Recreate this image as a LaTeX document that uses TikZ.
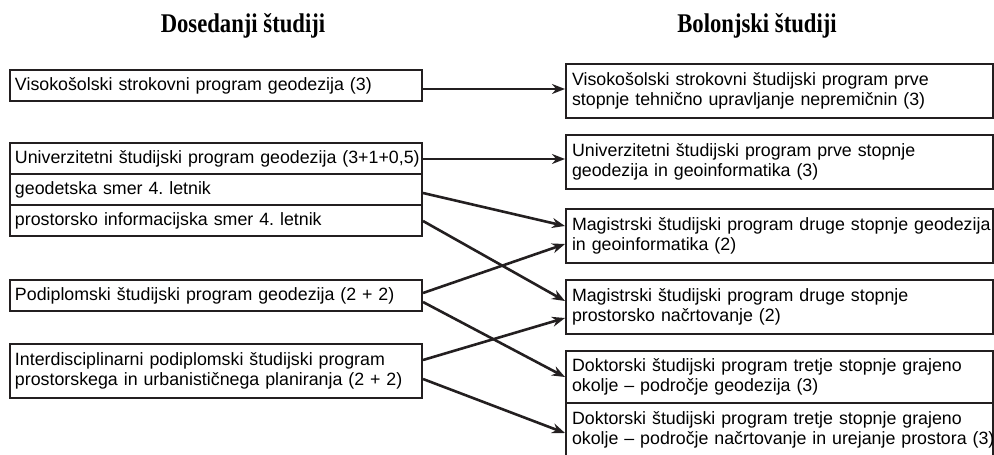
\documentclass[tikz,border=0pt]{standalone}
\usepackage{fontspec}
\usetikzlibrary{arrows.meta}
\newfontfamily\bodyfont{Liberation Sans}
\newfontfamily\headfont[FakeStretch=0.84]{Liberation Serif}
\definecolor{linec}{RGB}{35,31,32}
\newcommand{\oneline}[1]{\mbox{#1}}
\frenchspacing
\begin{document}
\begin{tikzpicture}[x=1pt,y=-1pt,
 box/.style={draw=linec, line width=2pt, anchor=north west, align=left,
   font=\bodyfont\fontsize{17.8}{20.5}\selectfont\frenchspacing, inner ysep=0pt},
 lbox/.style={box, text width=402pt, inner xsep=5pt, minimum height=31pt},
 rbox/.style={box, text width=415pt, inner xsep=6pt, minimum height=54pt},
 conn/.style={draw=linec, line width=2.6pt, -{Stealth[length=13pt,width=10pt]}},
 head/.style={font=\headfont\bfseries\fontsize{27}{30}\selectfont, anchor=base}]
\useasboundingbox (0,0) rectangle (994,455);

\node[head] (H1) at (243,32) {Dosedanji študiji};
\node[head] (H2) at (757,32) {Bolonjski študiji};

\node[lbox] (L1) at (9,69) {\oneline{Visokošolski strokovni program geodezija (3)}};
\node[lbox] (L2a) at (9,142) {\oneline{Univerzitetni študijski program geodezija (3+1+0,5)}};
\node[lbox] (L2b) at (9,173) {\oneline{geodetska smer 4. letnik}};
\node[lbox] (L2c) at (9,204) {\oneline{prostorsko informacijska smer 4. letnik}};
\node[lbox] (L3) at (9,279) {\oneline{Podiplomski študijski program geodezija (2 + 2)}};
\node[lbox, minimum height=54pt] (L4) at (9,343) {\oneline{Interdisciplinarni podiplomski študijski program}\\\oneline{prostorskega in urbanističnega planiranja (2 + 2)}};

\node[rbox] (R1) at (565,63) {\oneline{Visokošolski strokovni študijski program prve}\\\oneline{stopnje tehnično upravljanje nepremičnin (3)}};
\node[rbox] (R2) at (565,134) {\oneline{Univerzitetni študijski program prve stopnje}\\\oneline{geodezija in geoinformatika (3)}};
\node[rbox] (R3) at (565,208) {\oneline{Magistrski študijski program druge stopnje geodezija}\\\oneline{in geoinformatika (2)}};
\node[rbox] (R4) at (565,279) {\oneline{Magistrski študijski program druge stopnje}\\\oneline{prostorsko načrtovanje (2)}};
\node[rbox, minimum height=52pt] (R5) at (565,350) {\oneline{Doktorski študijski program tretje stopnje grajeno}\\\oneline{okolje – področje geodezija (3)}};
\node[rbox] (R6) at (565,402) {\oneline{Doktorski študijski program tretje stopnje grajeno}\\\oneline{okolje – področje načrtovanje in urejanje prostora (3)}};

\draw[conn] ([yshift=-3.5pt]L1.east) -- ([yshift=2pt]R1.west);
\draw[conn] ([yshift=-0.5pt]L2a.east) -- ([yshift=3pt]R2.west);
\draw[conn] ([yshift=-3.5pt]L2b.east) -- ([yshift=10pt]R3.west);
\draw[conn] ([yshift=-0.5pt]L2c.east) -- ([yshift=6pt]R4.west);
\draw[conn] ([yshift=2.5pt]L3.east) -- ([yshift=-8pt]R3.west);
\draw[conn] ([yshift=-6.5pt]L3.east) -- (R5.west);
\draw[conn] ([yshift=11pt]L4.east) -- ([yshift=-11pt]R4.west);
\draw[conn] ([yshift=-8pt]L4.east) -- ([yshift=-3pt]R6.west);
\end{tikzpicture}
\end{document}
